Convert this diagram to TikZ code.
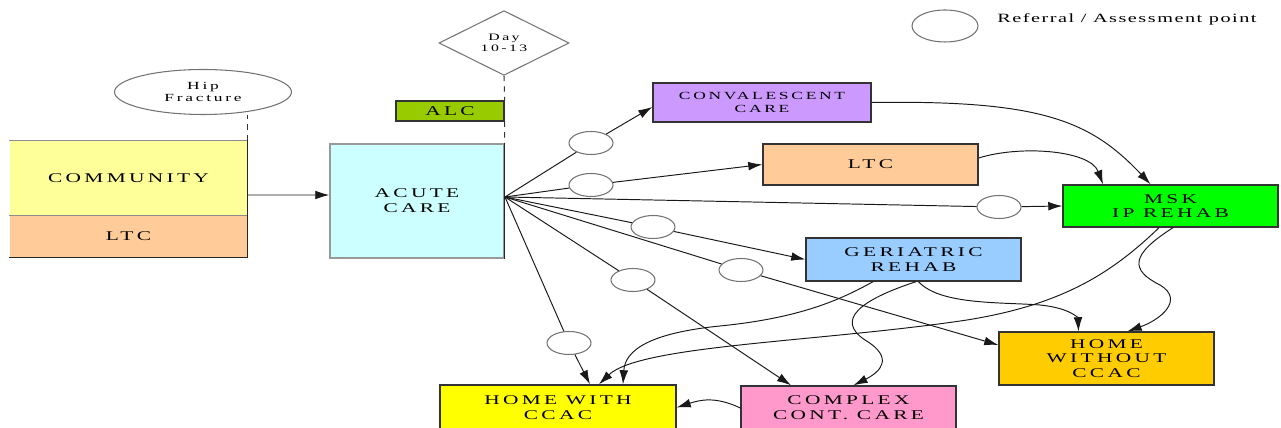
\documentclass[tikz,border=0pt]{standalone}
\usepackage{fontspec}
\setmainfont{Liberation Serif}
\newfontfamily\boxfont[FakeStretch=1.6,LetterSpace=25]{Liberation Serif}
\newfontfamily\legfont[FakeStretch=1.6,LetterSpace=12]{Liberation Serif}
\usetikzlibrary{arrows.meta,shapes.geometric}
\definecolor{commyellow}{HTML}{FFFF99}
\definecolor{ltcpeach}{HTML}{FFCC99}
\definecolor{acutecyan}{HTML}{CCFFFF}
\definecolor{alcgreen}{HTML}{99CC00}
\definecolor{convpurple}{HTML}{CC99FF}
\definecolor{mskgreen}{HTML}{00FF00}
\definecolor{geriblue}{HTML}{99CCFF}
\definecolor{homeorange}{HTML}{FFCC00}
\definecolor{homeyellow}{HTML}{FFFF00}
\definecolor{cccpink}{HTML}{FF99CC}
\begin{document}
\begin{tikzpicture}[x=0.02cm, y=-0.02cm, >={Latex[length=8pt,width=5pt]},
    box/.style={draw=black!80, line width=0.8pt, align=center, inner sep=0pt,
      font=\boxfont\fontsize{7.6}{8.4}\selectfont},
    refpt/.style={ellipse, draw=black!55, fill=white, line width=0.6pt, inner sep=0pt,
      minimum width=0.88cm, minimum height=0.46cm},
    bubble/.style={draw=black!55, line width=0.6pt, inner sep=0pt, align=center},
    link/.style={black!90, line width=0.55pt},
    arr/.style={link, ->},
    guide/.style={dashed, black!80, line width=0.6pt}]
  \useasboundingbox (0,0) rectangle (1281,428);

  % legend
  \node[refpt, minimum width=1.32cm, minimum height=0.64cm] (leg) at (945,26) {};
  \node[anchor=base west, inner sep=0pt, font=\legfont\fontsize{7.2}{8}\selectfont] (legtxt) at (997,23) {Referral / Assessment point};

  % where the patient comes from
  \node[bubble, ellipse, minimum width=3.54cm, minimum height=0.9cm, font=\boxfont\fontsize{6.2}{7.2}\selectfont] (hip) at (203,92) {Hip\\Fracture};
  \node[box, draw=none, fill=commyellow, minimum width=4.74cm, minimum height=1.48cm] (comm) at (128.5,178) {COMMUNITY};
  \node[box, draw=none, fill=ltcpeach, minimum width=4.74cm, minimum height=0.84cm] (ltcA) at (128.5,236) {LTC};
  \draw[black!45, line width=0.6pt] (comm.north west) -- (comm.north east);
  \draw[black!45, line width=0.6pt] (comm.south west) -- (comm.south east);
  \draw[black!85, line width=0.8pt] (comm.north east) -- (ltcA.south east) -- (ltcA.south west);

  % acute stay
  \node[box, draw=black!40, fill=acutecyan, minimum width=3.48cm, minimum height=2.28cm] (acute) at (417,201) {ACUTE\\CARE};
  \draw[black!85, line width=0.8pt] (acute.north east) -- (acute.south east);
  \node[box, fill=alcgreen, minimum width=2.16cm, minimum height=0.4cm] (alc) at (450,111) {ALC};
  \node[bubble, diamond, minimum width=2.6cm, minimum height=1.08cm, font=\boxfont\fontsize{5.6}{6.6}\selectfont] (day) at (504,43) {Day\\10-13};
  \draw[guide] (day.south) -- (alc.north east);
  \draw[guide] (alc.south east) -- (acute.north east);
  \draw[guide] (comm.north east) -- (comm.north east |- hip.south);
  \coordinate (hub) at (505,197);

  % destinations
  \node[box, fill=convpurple, minimum width=4.36cm, minimum height=0.78cm, font=\boxfont\fontsize{6.2}{7.4}\selectfont] (conv) at (762,102.5) {CONVALESCENT\\CARE};
  \node[box, fill=ltcpeach, minimum width=4.3cm, minimum height=0.82cm] (ltcB) at (870.5,164.5) {LTC};
  \node[box, fill=mskgreen, minimum width=4.3cm, minimum height=0.84cm] (msk) at (1170.5,206) {MSK\\IP REHAB};
  \node[box, fill=geriblue, minimum width=4.3cm, minimum height=0.86cm] (geri) at (913.5,259.5) {GERIATRIC\\REHAB};
  \node[box, fill=homeorange, minimum width=4.3cm, minimum height=1.06cm] (homewo) at (1106.5,358.5) {HOME\\WITHOUT\\CCAC};
  \node[box, fill=homeyellow, minimum width=4.72cm, minimum height=0.9cm] (homew) at (558,407.5) {HOME WITH\\CCAC};
  \node[box, fill=cccpink, minimum width=4.3cm, minimum height=0.88cm] (ccc) at (848.5,408) {COMPLEX\\CONT. CARE};

  % referral points
  \node[refpt] (r1) at (591,143) {};
  \node[refpt] (r2) at (591,185) {};
  \node[refpt] (r3) at (653,227) {};
  \node[refpt] (r4) at (741,270) {};
  \node[refpt] (r5) at (633,280) {};
  \node[refpt] (r6) at (569,343) {};
  \node[refpt] (r7) at (999,207) {};

  \draw[arr] ([yshift=-0.34cm]comm.east) -- ([yshift=0.12cm]acute.west);
  \draw[link] (hub) -- (r1);
  \draw[link] (hub) -- (r2);
  \draw[link] (hub) -- (r3);
  \draw[link] (hub) -- (r4);
  \draw[link] (hub) -- (r5);
  \draw[link] (hub) -- (r6);
  \draw[link] (hub) -- (r7);
  \draw[arr] (r1) -- ([yshift=-0.09cm]conv.west);
  \draw[arr] (r2) -- (ltcB.west);
  \draw[arr] (r7) -- (msk.west);
  \draw[arr] (r3) -- (geri.west);
  \draw[arr] (r4) -- ([yshift=0.27cm]homewo.west);
  \draw[arr] (r5) -- ([xshift=-1.15cm]ccc.north);
  \draw[arr] (r6) -- ([xshift=0.64cm]homew.north);

  % onward moves
  \draw[arr] (conv.east) .. controls (1040,100) and (1090,120) .. ([xshift=-0.4cm]msk.north);
  \draw[arr] ([yshift=0.13cm]ltcB.east) .. controls (1020,145) and (1090,150) .. ([xshift=-1.35cm]msk.north);
  \draw[arr] ([xshift=-0.23cm]msk.south) .. controls (1110,275) and (1060,305) .. (967,320)
    .. controls (820,342) and (640,345) .. ([xshift=0.82cm]homew.north);
  \draw[arr] ([xshift=0.05cm]msk.south) .. controls (1130,255) and (1130,270) .. (1160,285)
    .. controls (1185,300) and (1160,320) .. ([xshift=0.42cm]homewo.north);
  \draw[arr] ([xshift=-0.81cm]geri.south) .. controls (840,300) and (800,318) .. (720,326)
    .. controls (650,333) and (625,350) .. ([xshift=1.3cm]homew.north);
  \draw[arr] ([xshift=0.05cm]geri.south) .. controls (860,300) and (835,320) .. (865,340)
    .. controls (895,358) and (880,372) .. ([xshift=0.1cm]ccc.north);
  \draw[arr] ([xshift=0.1cm]geri.south) .. controls (940,305) and (1000,302) .. (1040,305)
    .. controls (1070,308) and (1078,318) .. ([xshift=-0.56cm]homewo.north);
  \draw[arr] (ccc.west) .. controls (715,396) and (700,400) .. (homew.east);
\end{tikzpicture}
\end{document}
